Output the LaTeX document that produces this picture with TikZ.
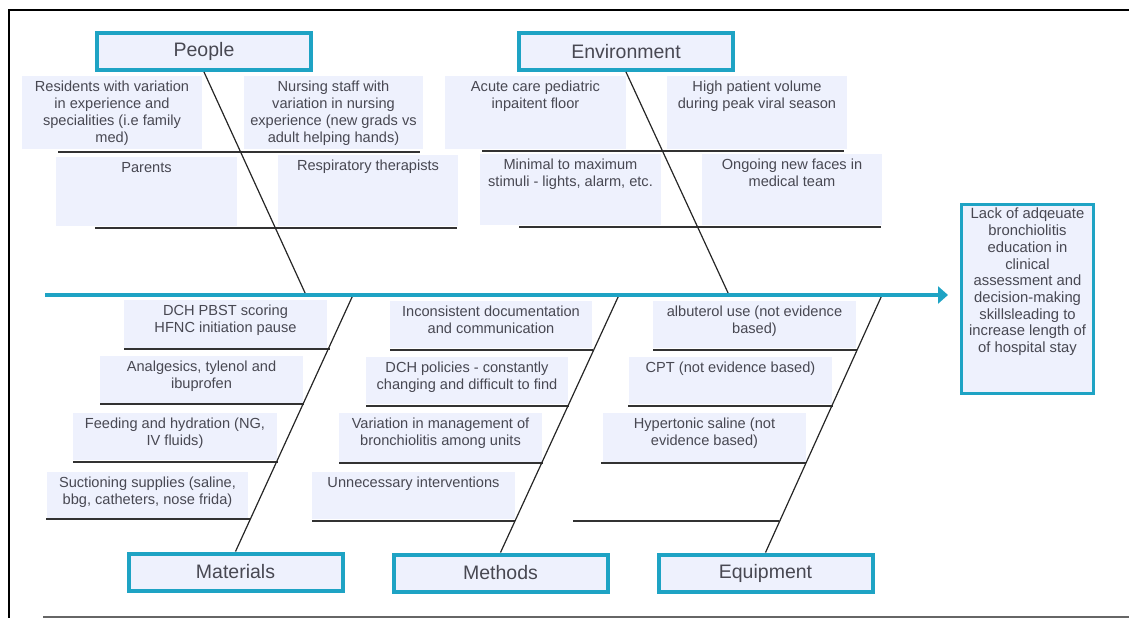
\documentclass[tikz,border=0pt]{standalone}
\usepackage{fontspec}
\setmainfont{Liberation Sans}
\usetikzlibrary{arrows.meta}
\definecolor{tealx}{RGB}{30,163,196}
\definecolor{boxfill}{RGB}{238,241,253}
\definecolor{txtc}{RGB}{72,72,82}
\definecolor{ribc}{RGB}{50,50,50}
\newcommand\fishbox[6]{%
  \node[subbox, minimum width={#4-#2}, minimum height={#5-#3}] (#1) at (#2,#3) {};
  \node[subtxt] (#1t) at ({(#2+#4)/2},{#3+5}) {#6};
}
\begin{document}
\begin{tikzpicture}[x=1pt,y=-1pt,
  subbox/.style={fill=boxfill, draw=none, inner sep=0, outer sep=0, anchor=north west},
  subtxt/.style={anchor=north, inner sep=0, align=center, text=txtc, font=\fontsize{14.6}{17}\selectfont},
  catbox/.style={draw=tealx, line width=4pt, fill=boxfill, text=txtc, font=\fontsize{19.5}{22}\selectfont, inner sep=0, minimum width=214, minimum height=37},
  ribline/.style={draw=ribc, line width=1.8pt},
  bone/.style={draw=black!85, line width=1.2pt},
]
\useasboundingbox (0,0) rectangle (1129,618);
% frame
\draw[black, line width=2pt] (1129,10) -- (9,10) -- (9,618);
\draw[black!60, line width=1.6pt] (43,617) -- (1129,617);

% People
\fishbox{res}{22}{76}{202}{149}{Residents with variation\\in experience and\\specialities (i.e family\\med)}
\fishbox{nurse}{244}{76}{423}{149}{Nursing staff with\\variation in nursing\\experience (new grads vs\\adult helping hands)}
\draw[ribline] (58,152) -- (420,152);
\fishbox{parents}{56}{157}{237}{226}{Parents}
\fishbox{resp}{278}{155}{458}{226}{Respiratory therapists}
\draw[ribline] (95,228) -- (457,228);

% Environment
\fishbox{acute}{445}{76}{626}{149}{Acute care pediatric\\inpaitent floor}
\fishbox{volume}{667}{76}{847}{149}{High patient volume\\during peak viral season}
\draw[ribline] (482,151) -- (844,151);
\fishbox{stimuli}{480}{154}{661}{225}{Minimal to maximum\\stimuli - lights, alarm, etc.}
\fishbox{faces}{702}{154}{882}{225}{Ongoing new faces in\\medical team}
\draw[ribline] (519,227) -- (881,227);

% Materials
\fishbox{pbst}{124}{300}{327}{348}{DCH PBST scoring\\HFNC initiation pause}
\draw[ribline] (124,349) -- (330,349);
\fishbox{analg}{100}{356}{303}{403}{Analgesics, tylenol and\\ibuprofen}
\draw[ribline] (100,404) -- (304,404);
\fishbox{feed}{73}{413}{277}{460}{Feeding and hydration (NG,\\IV fluids)}
\draw[ribline] (73,462) -- (278,462);
\fishbox{suction}{47}{472}{248}{518}{Suctioning supplies (saline,\\bbg, catheters, nose frida)}
\draw[ribline] (46,519) -- (250,519);

% Methods
\fishbox{incons}{390}{301}{592}{348}{Inconsistent documentation\\and communication}
\draw[ribline] (390,350) -- (593,350);
\fishbox{policies}{366}{357}{568}{404}{DCH policies - constantly\\changing and difficult to find}
\draw[ribline] (366,406) -- (569,406);
\fishbox{variation}{339}{413}{542}{462}{Variation in management of\\bronchiolitis among units}
\draw[ribline] (339,463) -- (543,463);
\fishbox{unnec}{312}{472}{515}{519}{Unnecessary interventions}
\draw[ribline] (312,521) -- (515,521);

% Equipment
\fishbox{albut}{653}{301}{856}{348}{albuterol use (not evidence\\based)}
\draw[ribline] (653,350) -- (857,350);
\fishbox{cpt}{629}{357}{832}{404}{CPT (not evidence based)}
\draw[ribline] (628,406) -- (833,406);
\fishbox{hyper}{603}{413}{806}{462}{Hypertonic saline (not\\evidence based)}
\draw[ribline] (601,463) -- (806,463);
\draw[ribline] (573,521) -- (779,521);

% category boxes
\node[catbox] (people) at (204,51.5) {People};
\node[catbox] (env) at (626,51.5) {Environment};
\node[catbox] (mat) at (235.5,572) {Materials};
\node[catbox] (meth) at (500.5,573) {Methods};
\node[catbox] (equip) at (765.5,573) {Equipment};

% effect
\node[draw=tealx, line width=3pt, fill=boxfill, minimum width=132, minimum height=189, inner sep=0, anchor=north] (effect) at (1027.5,202.5) {};
\node[anchor=north, inner sep=0, align=center, text=txtc, font=\fontsize{14.8}{16.7}\selectfont] (effectt) at (1027.5,208) {Lack of adqeuate\\bronchiolitis\\education in\\clinical\\assessment and\\decision-making\\skillsleading to\\increase length of\\of hospital stay};

% spine
\coordinate (tail) at (45,295);
\coordinate (head) at (948,295);
\coordinate (sp1) at (306,295);
\coordinate (sp2) at (729,295);
\coordinate (sp3) at (353,295);
\coordinate (sp4) at (619,295);
\coordinate (sp5) at (882,295);
\draw[bone] (people.south) -- (sp1);
\draw[bone] (env.south) -- (sp2);
\draw[bone] (mat.north) -- (sp3);
\draw[bone] (meth.north) -- (sp4);
\draw[bone] (equip.north) -- (sp5);
\draw[tealx, line width=3.5pt, -{Triangle[length=10pt,width=17pt]}] (tail) -- (head);
\end{tikzpicture}
\end{document}
